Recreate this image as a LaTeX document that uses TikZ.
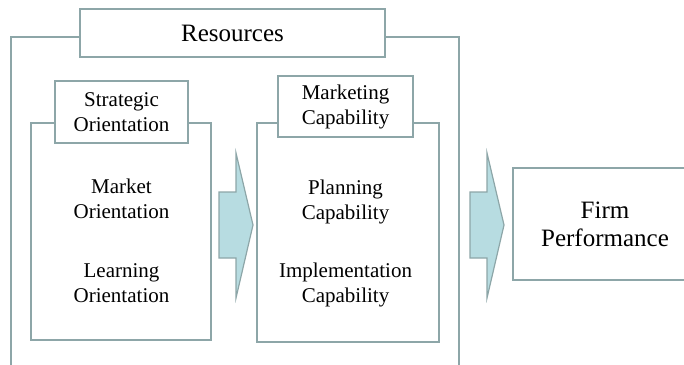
\documentclass[tikz,border=0pt]{standalone}
\usepackage{fontspec}
\setmainfont{Liberation Serif}
\usepackage{xcolor}
\usepackage{tikz}
\definecolor{edge}{RGB}{141,166,168}
\definecolor{arrfill}{RGB}{183,220,225}
\tikzset{frm/.style={draw=edge,line width=1.5pt}}
\tikzset{ttl/.style={rectangle,draw=edge,line width=1.5pt,fill=white,inner sep=0pt,align=center}}
\tikzset{txt/.style={align=center,inner sep=0pt,font=\fontsize{21}{25}\selectfont}}
\tikzset{arr/.style={draw=edge,line width=1.2pt,fill=arrfill,line join=miter}}

\begin{document}
\begin{tikzpicture}[x=1pt,y=-1pt]
    \useasboundingbox (0,0) rectangle (684,364);
    \clip (0,0) rectangle (684,364);

    % frames
    \draw[frm] (11,37) rectangle (459,380);
    \draw[frm] (31,123) rectangle (211,340);
    \draw[frm] (257,123) rectangle (439,342);

    % title boxes
    \node[ttl,minimum width=305pt,minimum height=48pt,font=\fontsize{25}{28}\selectfont] (res)at (232.5,33) {Resources};
    \node[ttl,minimum width=133pt,minimum height=62pt,font=\fontsize{21}{25}\selectfont] (so)at (121.5,112) {Strategic\\Orientation};
    \node[ttl,minimum width=135pt,minimum height=61pt,font=\fontsize{21}{25}\selectfont] (mc)at (345.5,106.5) {Marketing\\Capability};
    \node[ttl,minimum width=184pt,minimum height=112pt,font=\fontsize{25}{28}\selectfont] (fp)at (605,224) {Firm\\Performance};

    \node[txt] (mo)at (121.5,198.5) {Market\\Orientation};
    \node[txt] (lo)at (121.5,283) {Learning\\Orientation};
    \node[txt] (pc)at (345.5,202) {Planning\\Capability};
    \node[txt] (ic)at (345.5,285) {Implementation\\Capability};

    % block arrows
    \coordinate (a1)at (219,225);
    \coordinate (a2)at (470,225);
    \foreach \a in {a1,a2}
        \draw[arr] (\a) ++(0,-33) -- ++(17,0) -- ++(0,-39) -- ++(17,72)
            -- ++(-17,73) -- ++(0,-40) -- ++(-17,0) -- cycle;
\end{tikzpicture}
\end{document}
